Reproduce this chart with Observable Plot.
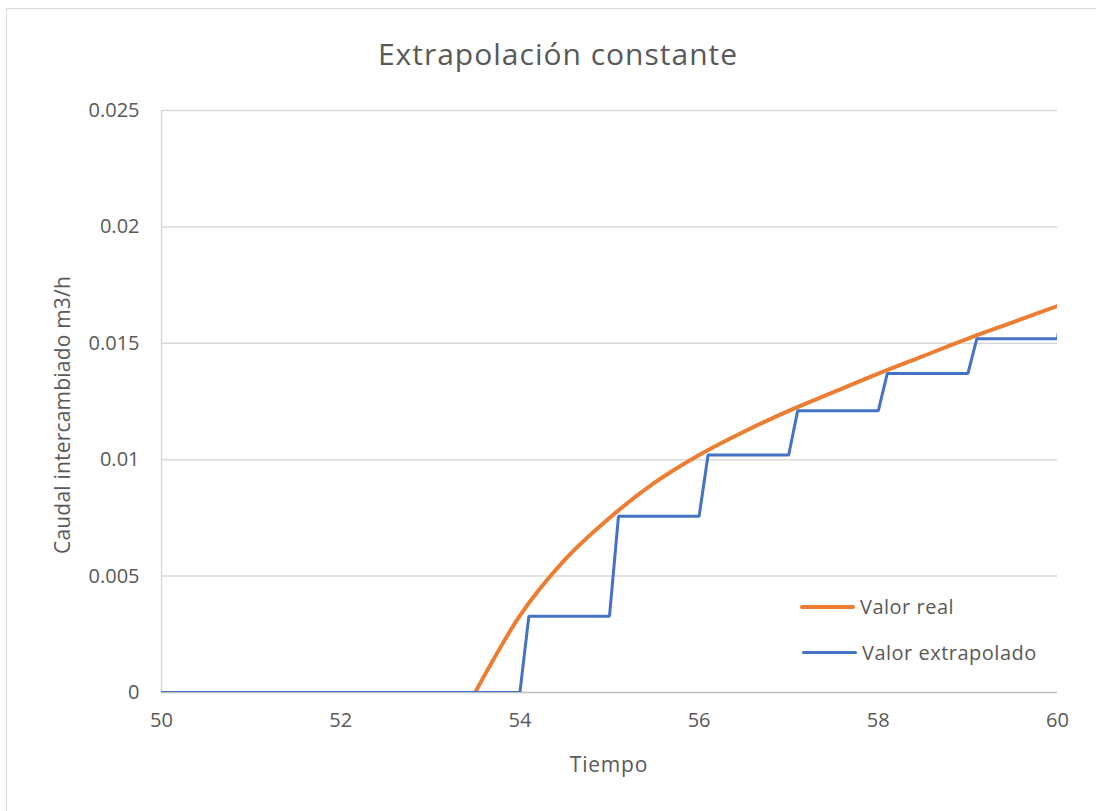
<!DOCTYPE html>
<html>
<head>
<meta charset="utf-8">
<script src="https://cdn.jsdelivr.net/npm/d3@7"></script>
<script src="https://cdn.jsdelivr.net/npm/@observablehq/plot@0.6"></script>
<style>
  html, body { margin: 0; padding: 0; background: #fff; }
  #wrap { position: relative; width: 1096px; height: 811px; overflow: hidden; font-family: "Open Sans", Lato, sans-serif; color: #595959; }
  #border { position: absolute; left: 6px; top: 8px; width: 1200px; height: 900px; border: 1.5px solid #d9d9d9; box-sizing: border-box; }
  #title { position: absolute; left: 0; width: 1116px; top: 33px; text-align: center; font-size: 30px; letter-spacing: 1px; color: #595959; }
  #xlabel { position: absolute; left: 161px; width: 896px; top: 750px; text-align: center; font-size: 21px; letter-spacing: 0.8px; }
  #ylabel { position: absolute; left: 62px; top: 415px; transform: translate(-50%, -50%) rotate(-90deg); white-space: nowrap; font-size: 21px; letter-spacing: 0.2px; }
  .leg { position: absolute; font-size: 20px; letter-spacing: 0.5px; display: flex; align-items: center; }
  .sw { width: 55px; margin-right: 5px; border-radius: 2px; }
  svg { position: absolute; left: 0; top: 0; }
</style>
</head>
<body>
<div id="wrap">
  <div id="border"></div>
  <div id="title">Extrapolación constante</div>
  <div id="ylabel">Caudal intercambiado m3/h</div>
  <div id="xlabel">Tiempo</div>
  <div class="leg" style="left:800px; top:593px;"><div class="sw" style="height:4px;background:#ED7D31"></div>Valor real</div>
  <div class="leg" style="left:802px; top:639px;"><div class="sw" style="height:3px;background:#4472C4"></div>Valor extrapolado</div>
</div>
<script>
// Series: "Valor real" (smooth curve)
const realT = [53.5, 54, 54.5, 55, 55.5, 56, 56.5, 57, 57.5, 58, 58.5, 59, 59.5, 60];
const realV = [0, 0.0033, 0.0057, 0.0075, 0.0090, 0.0102, 0.0112, 0.0121, 0.0129, 0.0137, 0.01445, 0.0152, 0.0159, 0.0166];

// Series: "Valor extrapolado" (held constant, stepped)
const extT = [50, 54, 54.1, 55, 55.1, 56, 56.1, 57, 57.1, 58, 58.1, 59, 59.1, 60, 60.05];
const extV = [0, 0, 0.00328, 0.00328, 0.00757, 0.00757, 0.0102, 0.0102, 0.0121, 0.0121, 0.0137, 0.0137, 0.0152, 0.0152, 0.0166];

const xTicks = [50, 52, 54, 56, 58, 60];
const yTicks = [0, 0.005, 0.01, 0.015, 0.02, 0.025];

const real = realT.map((t, i) => ({t, v: realV[i]}));
const ext = extT.map((t, i) => ({t, v: extV[i]}));

const chart = Plot.plot({
  width: 1096,
  height: 811,
  marginLeft: 161,
  marginRight: 39,
  marginTop: 110,
  marginBottom: 119,
  style: {fontFamily: "'Open Sans', Lato, sans-serif", fontSize: "20px", color: "#595959", background: "transparent"},
  x: {domain: [50, 60]},
  y: {domain: [0, 0.025]},
  marks: [
    Plot.ruleY(yTicks.slice(1), {stroke: "#d9d9d9", strokeWidth: 1.5}),
    Plot.ruleX([50], {stroke: "#d9d9d9", strokeWidth: 1.5}),
    Plot.ruleY([0], {stroke: "#bfbfbf", strokeWidth: 1.5}),
    Plot.axisX({ticks: xTicks, tickSize: 0, tickPadding: 20, tickFormat: d => String(d), label: null, fontSize: 20}),
    Plot.axisY({ticks: yTicks, tickSize: 0, tickPadding: 22, tickFormat: d => String(+d.toFixed(3)), label: null, fontSize: 20}),
    Plot.line(real, {x: "t", y: "v", stroke: "#ED7D31", strokeWidth: 4, curve: "monotone-x", clip: true}),
    Plot.line(ext, {x: "t", y: "v", stroke: "#4472C4", strokeWidth: 3, strokeLinejoin: "miter", clip: true})
  ]
});
document.getElementById("wrap").appendChild(chart);
</script>
</body>
</html>
